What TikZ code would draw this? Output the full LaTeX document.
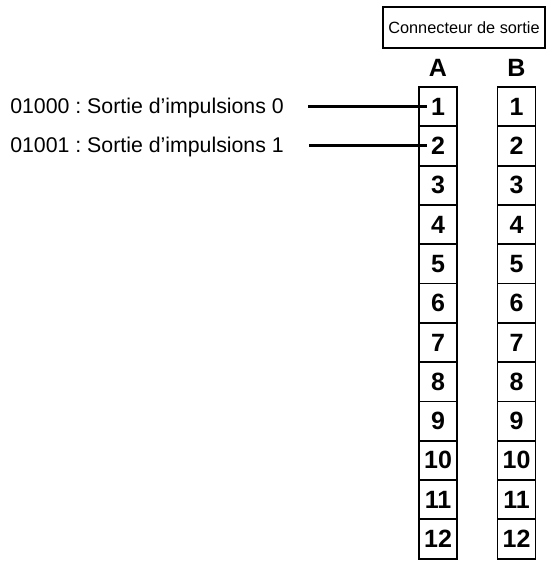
\documentclass[tikz,border=0pt]{standalone}
\usepackage{fontspec}
\setmainfont{Liberation Sans}
\usetikzlibrary{positioning}
\frenchspacing

\begin{document}
\begin{tikzpicture}[
    x=1pt, y=-1pt,
    cell/.style={draw, line width=1.8pt, minimum width=38pt, minimum height=39.3pt,
        inner sep=0pt, font=\fontsize{25}{28}\selectfont\bfseries},
    colname/.style={font=\fontsize{25}{28}\selectfont\bfseries, inner sep=0pt},
    pinlabel/.style={anchor=east, inner sep=0pt, font=\fontsize{21.3}{24}\selectfont},
    wire/.style={line width=3pt}]

\useasboundingbox (0,0) rectangle (554,564);

% Connector title
\node[draw, line width=1.8pt, minimum width=162pt, minimum height=41pt, inner sep=0pt,
    font=\fontsize{16.3}{19}\selectfont] (title) at (464,27.5) {Connecteur de sortie};

% Column names
\node[colname] (colA) at (438,68) {A};
\node[colname] (colB) at (516.5,68) {B};

% Terminal blocks A and B
\foreach \i in {1,...,12} {
    \node[cell] (a\i) at (438,{87+39.3*(\i-0.5)}) {\i};
    \node[cell] (b\i) at (516.5,{87+39.3*(\i-0.5)}) {\i};
}

% Pulse outputs
\node[pinlabel] (imp0) at (284,108) {01000 : Sortie d’impulsions 0};
\node[pinlabel] (imp1) at (284,147) {01001 : Sortie d’impulsions 1};

\draw[wire] ([xshift=24pt]imp0.east |- a1.west) -- ([xshift=9pt]a1.west);
\draw[wire] ([xshift=25pt]imp1.east |- a2.west) -- ([xshift=9pt]a2.west);

\end{tikzpicture}
\end{document}
